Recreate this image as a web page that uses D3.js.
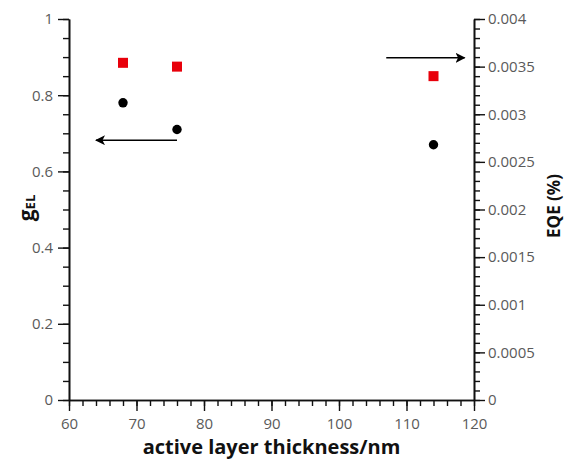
<!DOCTYPE html>
<html><head><meta charset="utf-8">
<script src="https://cdn.jsdelivr.net/npm/d3@7"></script>
<style>body{margin:0;background:#fff}svg{display:block}</style>
</head><body><svg id="c" width="565" height="461"></svg>
<script>
const thickness = [68, 76, 114];
const gEL = [0.78, 0.71, 0.67];
const eqe = [0.00354, 0.0035, 0.0034];
const xTicks = [60, 70, 80, 90, 100, 110, 120];
const yLeftTicks = [0, 0.2, 0.4, 0.6, 0.8, 1];
const yRightTicks = [0, 0.0005, 0.001, 0.0015, 0.002, 0.0025, 0.003, 0.0035, 0.004];
// arrows in data coordinates (x, left-axis y)
const arrowLeft = {x1: 76, x2: 64.0, y: 0.682};
const arrowRight = {x1: 107, x2: 118.6, y: 0.898};

const svg = d3.select("#c");
const L = 69, R = 474, T = 19, B = 400;
const x = d3.scaleLinear().domain([60, 120]).range([L, R]);
const yL = d3.scaleLinear().domain([0, 1]).range([B, T]);
const yR = d3.scaleLinear().domain([0, 0.004]).range([B, T]);

const font = "'Open Sans', sans-serif";
const axisCol = "#111";
const labCol = "#5a5a5a";

function styleAxis(g) {
  g.selectAll("path.domain").attr("stroke", axisCol).attr("stroke-width", 1.6);
  g.selectAll(".tick line").attr("stroke", axisCol).attr("stroke-width", 1.4);
  g.selectAll("text").attr("fill", labCol).style("font-family", font).style("font-size", "15px");
}

// minor ticks
const gx = svg.append("g").attr("transform", `translate(0,${B})`);
gx.call(d3.axisBottom(x).tickValues(d3.range(60, 120.01, 2)).tickSize(6).tickFormat("").tickSizeOuter(0));
styleAxis(gx);
const gxM = svg.append("g").attr("transform", `translate(0,${B})`);
gxM.call(d3.axisBottom(x).tickValues(xTicks).tickSize(11).tickPadding(7).tickFormat(d3.format("d")).tickSizeOuter(0));
styleAxis(gxM);

const gl = svg.append("g").attr("transform", `translate(${L},0)`);
gl.call(d3.axisLeft(yL).tickValues(d3.range(0, 1.001, 0.05)).tickSize(6).tickFormat("").tickSizeOuter(0));
styleAxis(gl);
const glM = svg.append("g").attr("transform", `translate(${L},0)`);
glM.call(d3.axisLeft(yL).tickValues(yLeftTicks).tickSize(11).tickPadding(5).tickFormat(d => String(+d.toFixed(2))).tickSizeOuter(0));
styleAxis(glM);

const gr = svg.append("g").attr("transform", `translate(${R},0)`);
gr.call(d3.axisRight(yR).tickValues(d3.range(0, 40.01, 1).map(v => v / 10000)).tickSize(6).tickFormat("").tickSizeOuter(0));
styleAxis(gr);
const grM = svg.append("g").attr("transform", `translate(${R},0)`);
grM.call(d3.axisRight(yR).tickValues(yRightTicks).tickSize(11).tickPadding(3).tickFormat(d => String(+d.toFixed(4))).tickSizeOuter(0));
styleAxis(grM);

// data
svg.append("g").selectAll("rect").data(thickness).join("rect")
  .attr("x", (d) => x(d) - 5).attr("y", (d, i) => yR(eqe[i]) - 5)
  .attr("width", 10).attr("height", 10).attr("fill", "#e8000b");
svg.append("g").selectAll("circle").data(thickness).join("circle")
  .attr("cx", d => x(d)).attr("cy", (d, i) => yL(gEL[i])).attr("r", 4.7).attr("fill", "#000");

// arrows
const defs = svg.append("defs");
defs.append("marker").attr("id", "ah").attr("viewBox", "0 0 10 10").attr("refX", 9).attr("refY", 5)
  .attr("markerWidth", 10).attr("markerHeight", 10).attr("markerUnits", "userSpaceOnUse").attr("orient", "auto")
  .append("path").attr("d", "M0,0 L10,5 L0,10 L2.5,5 Z").attr("fill", "#000");
[arrowLeft, arrowRight].forEach(a => {
  svg.append("line").attr("x1", x(a.x1)).attr("x2", x(a.x2)).attr("y1", yL(a.y)).attr("y2", yL(a.y))
    .attr("stroke", "#000").attr("stroke-width", 1.5).attr("marker-end", "url(#ah)");
});

// titles
svg.append("text").attr("x", (L + R) / 2).attr("y", 454).attr("text-anchor", "middle")
  .style("font-family", font).style("font-weight", "bold").style("font-size", "20px").attr("fill", "#111")
  .text("active layer thickness/nm");
const yt = svg.append("text").attr("transform", "translate(34,208) rotate(-90)").attr("text-anchor", "middle")
  .style("font-family", font).style("font-weight", "bold").attr("fill", "#111");
yt.append("tspan").style("font-size", "21px").text("g");
yt.append("tspan").style("font-size", "13px").attr("dy", 1).text("EL");
svg.append("text").attr("transform", "translate(560,206) rotate(-90)").attr("text-anchor", "middle")
  .style("font-family", font).style("font-weight", "bold").style("font-size", "17px").attr("fill", "#111")
  .text("EQE (%)");
</script></body></html>
